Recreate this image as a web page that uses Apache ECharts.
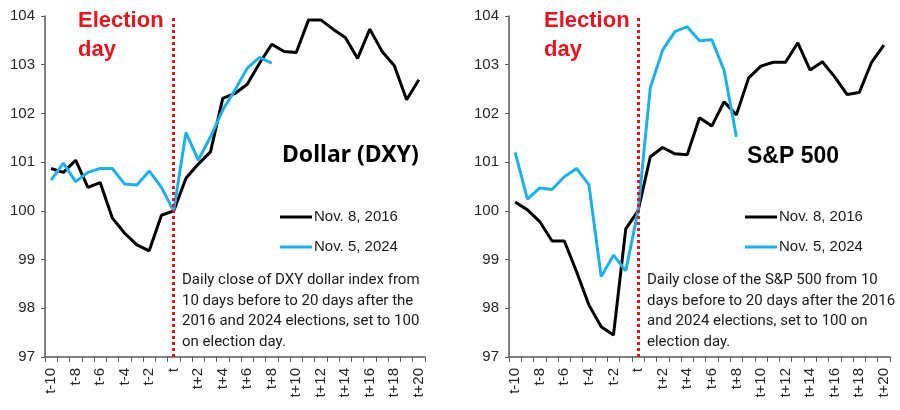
<!DOCTYPE html>
<html><head><meta charset="utf-8">
<script src="https://cdn.jsdelivr.net/npm/echarts@6/dist/echarts.min.js"></script>
<style>html,body{margin:0;padding:0;background:#fff}#c{width:900px;height:410px}</style>
</head><body><div id="c"></div>
<script>
const categories = ['t-10','t-9','t-8','t-7','t-6','t-5','t-4','t-3','t-2','t-1','t','t+1','t+2','t+3','t+4','t+5','t+6','t+7','t+8','t+9','t+10','t+11','t+12','t+13','t+14','t+15','t+16','t+17','t+18','t+19','t+20'];
const yTicks = [97, 104, 1];
const dxy2016 = [100.87,100.79,101.04,100.48,100.58,99.85,99.54,99.30,99.18,99.91,100,100.67,100.96,101.21,102.31,102.41,102.60,103.03,103.42,103.27,103.25,103.92,103.92,103.73,103.56,103.13,103.73,103.27,102.98,102.28,102.69];
const dxy2024 = [100.63,100.98,100.60,100.79,100.87,100.87,100.55,100.53,100.82,100.48,100,101.61,101.04,101.52,102.07,102.48,102.93,103.15,103.03];
const spx2016 = [100.18,100.02,99.78,99.38,99.38,98.75,98.07,97.62,97.45,99.63,100,101.11,101.30,101.17,101.15,101.91,101.74,102.24,101.97,102.73,102.97,103.05,103.05,103.45,102.89,103.06,102.75,102.39,102.43,103.05,103.40];
const spx2024 = [101.20,100.24,100.47,100.44,100.70,100.87,100.54,98.65,99.09,98.77,100,102.53,103.30,103.68,103.78,103.49,103.51,102.89,101.52];
const seriesNames = ['Nov. 8, 2016','Nov. 5, 2024'];
const panelTitles = ['Dollar (DXY)','S&P 500'];
const electionLabel = 'Election\nday';
const notes = ['Daily close of DXY dollar index from\n10 days before to 20 days after the\n2016 and 2024 elections, set to 100\non election day.',
  'Daily close of the S&P 500 from 10\ndays before to 20 days after the 2016\nand 2024 elections, set to 100 on\nelection day.'];

const BLACK='#000000', BLUE='#1DB1EA', RED='#E8141C', AX='#595959';
const grids=[{left:45,right:475,top:16,bottom:53},{left:509,right:10,top:16,bottom:53}];
function xAx(i){return {type:'category',gridIndex:i,data:categories,boundaryGap:true,
  axisLine:{lineStyle:{color:AX,width:1.5}},axisTick:{show:true,interval:0,length:5,lineStyle:{color:AX}},
  axisLabel:{interval:1,rotate:90,fontSize:15,color:'#262626',fontFamily:'Liberation Sans',margin:11},splitLine:{show:false}};}
function yAx(i){return {type:'value',gridIndex:i,min:yTicks[0],max:yTicks[1],interval:yTicks[2],
  axisLine:{show:true,lineStyle:{color:AX,width:1.5}},axisTick:{show:true,length:4,lineStyle:{color:AX}},
  axisLabel:{fontSize:15,color:'#262626',fontFamily:'Liberation Sans',margin:10},splitLine:{show:false}};}
function ser(i,name,data,color,ml){const s={type:'line',name:name,xAxisIndex:i,yAxisIndex:i,data:data,symbol:'none',
  lineStyle:{color:color,width:3},itemStyle:{color:color},z:ml?2:3};
  if(ml){s.markLine={silent:true,symbol:'none',label:{show:false},lineStyle:{color:RED,width:3,type:[3,3]},data:[{xAxis:'t'}]};}
  return s;}
const legendBase=(left)=>({orient:'vertical',left:left,top:203,itemGap:12,icon:'rect',itemWidth:32,itemHeight:3,
  textStyle:{fontSize:15,color:'#1a1a1a',fontFamily:'Liberation Sans',lineHeight:18,padding:[0,0,0,-3]},data:seriesNames,selectedMode:false});
const option={animation:false,
  grid:grids,xAxis:[xAx(0),xAx(1)],yAxis:[yAx(0),yAx(1)],
  legend:[legendBase(275),legendBase(740)],
  series:[ser(0,seriesNames[0],dxy2016,BLACK,true),ser(0,seriesNames[1],dxy2024,BLUE,false),
          ser(1,seriesNames[0],spx2016,BLACK,true),ser(1,seriesNames[1],spx2024,BLUE,false)],
  graphic:[
    {type:'text',left:78,top:6,style:{text:electionLabel,fill:RED,font:'bold 22px "Liberation Sans"',lineHeight:29}},
    {type:'text',left:544,top:6,style:{text:electionLabel,fill:RED,font:'bold 22px "Liberation Sans"',lineHeight:29}},
    {type:'text',left:282,top:144,style:{text:panelTitles[0],fill:'#000',font:'bold 23px "Noto Sans"'}},
    {type:'text',left:747,top:145,style:{text:panelTitles[1],fill:'#000',font:'bold 23px "Liberation Sans"'}},
    {type:'text',left:182,top:270,style:{text:notes[0],fill:'#1a1a1a',font:'15px "Roboto"',lineHeight:20.5}},
    {type:'text',left:647,top:270,style:{text:notes[1],fill:'#1a1a1a',font:'15px "Roboto"',lineHeight:20.5}}
  ]};
echarts.init(document.getElementById('c')).setOption(option);
</script></body></html>
